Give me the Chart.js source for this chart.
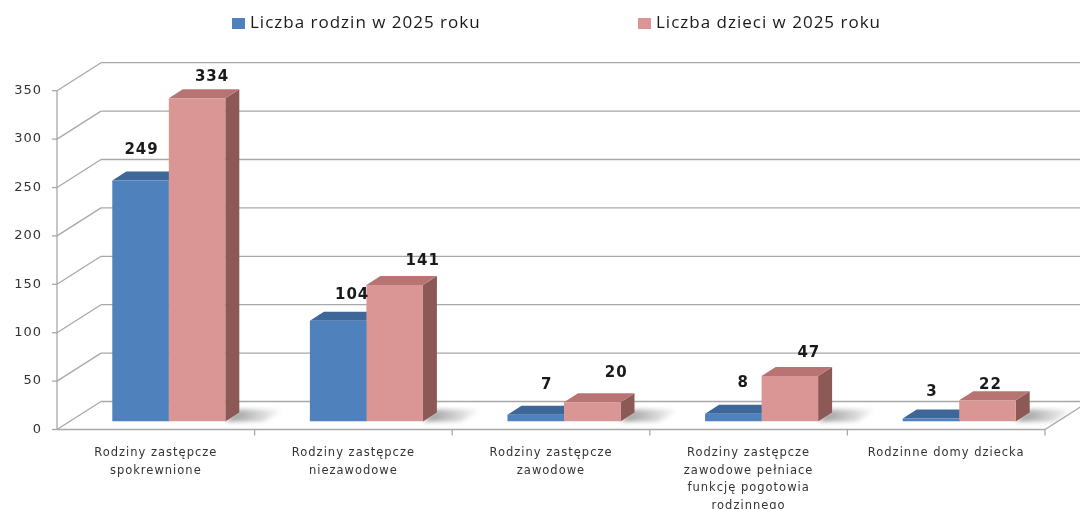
<!DOCTYPE html>
<html lang="pl">
<head>
<meta charset="utf-8">
<title>Rodziny zastępcze 2025</title>
<script src="https://cdn.jsdelivr.net/npm/chart.js@4.4.1/dist/chart.umd.min.js"></script>
<style>
  html, body { margin: 0; padding: 0; background: #fff; }
  #wrap { width: 1080px; height: 509px; }
</style>
</head>
<body>
<div id="wrap"><canvas id="chart" width="1080" height="509"></canvas></div>
<script>
// ─── data ──────────────────────────────────────────────────────────────
const categories = [
  ['Rodziny zastępcze', 'spokrewnione'],
  ['Rodziny zastępcze', 'niezawodowe'],
  ['Rodziny zastępcze', 'zawodowe'],
  ['Rodziny zastępcze', 'zawodowe pełniace', 'funkcję pogotowia', 'rodzinnego'],
  'Rodzinne domy dziecka',
];
const seriesNames = ['Liczba rodzin w 2025 roku', 'Liczba dzieci w 2025 roku'];
const families = [249, 104, 7, 8, 3];
const children = [334, 141, 20, 47, 22];
const yMin = 0, yMax = 350, yStep = 50;

// ─── look ──────────────────────────────────────────────────────────────
const CC = {
  text:     '#1a1a1a',
  axis:     '#333333',
  grid:     '#a8a8a8',
  blue:     '#4f81bd', blueTop: '#3d6798', blueSide: '#33557f',
  pink:     '#d99694', pinkTop: '#b87472', pinkSide: '#8c5957',
};
const FACES = [
  { top: CC.blueTop, side: CC.blueSide },
  { top: CC.pinkTop, side: CC.pinkSide },
];
const DEPTH = { dx: 14, dy: -9 };    // depth of one bar
const FRONT = { dx: -13, dy: 8 };    // axis plane, relative to bar plane
const BACK  = { dx: 31, dy: -20 };   // back wall, relative to bar plane

// value label nudges (relative to centre / top of the bar's front face)
const labelNudge = [
  [[1, -30], [14, -26], [11, -30], [10, -31], [1, -26]],
  [[15, -21], [28, -24], [24, -29], [19, -23], [3, -15]],
];

function line(ctx, x1, y1, x2, y2) {
  ctx.beginPath(); ctx.moveTo(x1, y1); ctx.lineTo(x2, y2); ctx.stroke();
}
function poly(ctx, pts, fill) {
  ctx.beginPath();
  pts.forEach(([px, py], i) => i ? ctx.lineTo(px, py) : ctx.moveTo(px, py));
  ctx.closePath();
  ctx.fillStyle = fill;
  ctx.fill();
}

// ── 3D box: walls, floor, bar tops/sides, shadows ─────────────────────
const box3d = {
  id: 'box3d',
  beforeDraw(chart) {
    // the source text is set wide; track every label a little
    chart.ctx.letterSpacing = '1px';
  },

  beforeDatasetsDraw(chart) {
    const { ctx, chartArea: ca, scales: { x, y } } = chart;
    ctx.save();
    ctx.strokeStyle = CC.grid;
    ctx.lineWidth = 1.3;

    // back wall grid + side wall diagonals + axis ticks
    y.ticks.forEach(t => {
      const py = y.getPixelForValue(t.value);
      line(ctx, ca.left + BACK.dx, py + BACK.dy, ca.right + BACK.dx, py + BACK.dy);
      line(ctx, ca.left + FRONT.dx, py + FRONT.dy, ca.left + BACK.dx, py + BACK.dy);
      line(ctx, ca.left + FRONT.dx - 5, py + FRONT.dy, ca.left + FRONT.dx, py + FRONT.dy);
    });
    // front vertical axis
    line(ctx, ca.left + FRONT.dx, y.getPixelForValue(yMax) + FRONT.dy,
              ca.left + FRONT.dx, y.getPixelForValue(yMin) + FRONT.dy);
    // floor front edge and right edge
    const fy = y.getPixelForValue(yMin);
    line(ctx, ca.left + FRONT.dx, fy + FRONT.dy, ca.right + FRONT.dx, fy + FRONT.dy);
    line(ctx, ca.right + FRONT.dx, fy + FRONT.dy, ca.right + BACK.dx, fy + BACK.dy);
    // category separators
    const n = categories.length;
    for (let i = 0; i < n; i++) {
      const bx = i < n - 1 ? (x.getPixelForValue(i) + x.getPixelForValue(i + 1)) / 2 : ca.right;
      line(ctx, bx + FRONT.dx, fy + FRONT.dy, bx + FRONT.dx, fy + FRONT.dy + 6);
    }

    // floor shadows to the right of each pair
    const last = chart.getDatasetMeta(chart.data.datasets.length - 1);
    last.data.forEach(el => {
      const r = el.x + el.width / 2, b = el.base;
      const g = ctx.createLinearGradient(r, 0, r + 58, 0);
      g.addColorStop(0, 'rgba(0,0,0,0.42)');
      g.addColorStop(1, 'rgba(0,0,0,0)');
      ctx.save();
      ctx.filter = 'blur(2px)';
      poly(ctx, [[r, b], [r + DEPTH.dx, b + DEPTH.dy - 3], [r + 60, b + DEPTH.dy - 3], [r + 38, b]], g);
      ctx.restore();
    });

    // tops and sides of the bars
    chart.data.datasets.forEach((ds, di) => {
      chart.getDatasetMeta(di).data.forEach(el => {
        const l = el.x - el.width / 2, r = el.x + el.width / 2, t = el.y, b = el.base;
        poly(ctx, [[r, t], [r + DEPTH.dx, t + DEPTH.dy], [r + DEPTH.dx, b + DEPTH.dy], [r, b]], FACES[di].side);
        poly(ctx, [[l, t], [l + DEPTH.dx, t + DEPTH.dy], [r + DEPTH.dx, t + DEPTH.dy], [r, t]], FACES[di].top);
      });
    });
    ctx.restore();
  },

  afterDatasetsDraw(chart) {
    const { ctx } = chart;
    ctx.save();
    ctx.font = 'bold 15px "DejaVu Sans"';
    ctx.fillStyle = CC.text;
    ctx.textAlign = 'center';
    ctx.textBaseline = 'middle';
    chart.data.datasets.forEach((ds, di) => {
      chart.getDatasetMeta(di).data.forEach((el, i) => {
        const [nx, ny] = labelNudge[di][i];
        ctx.fillText(String(ds.data[i]), el.x + nx, el.y + ny);
      });
    });
    ctx.restore();
  },

  afterDraw(chart) {
    const { ctx } = chart;
    const items = [{ x: 232 }, { x: 638 }];
    ctx.save();
    ctx.font = '17px "Open Sans"';
    ctx.textBaseline = 'middle';
    ctx.textAlign = 'left';
    chart.data.datasets.forEach((ds, di) => {
      const it = items[di];
      ctx.fillStyle = ds.backgroundColor;
      ctx.fillRect(it.x, 18, 13, 11);
      ctx.fillStyle = CC.text;
      ctx.fillText(ds.label, it.x + 18, 23);
    });
    ctx.restore();
    ctx.letterSpacing = '0px';
  },
};

new Chart(document.getElementById('chart').getContext('2d'), {
  type: 'bar',
  data: {
    labels: categories,
    datasets: [
      { label: seriesNames[0], data: families, backgroundColor: CC.blue },
      { label: seriesNames[1], data: children, backgroundColor: CC.pink },
    ],
  },
  options: {
    responsive: false,
    animation: false,
    events: [],
    layout: { padding: { top: 82.7, right: 22, left: 0, bottom: 0 } },
    datasets: { bar: { barPercentage: 1, categoryPercentage: 0.572, borderWidth: 0 } },
    plugins: { legend: { display: false }, tooltip: { enabled: false } },
    scales: {
      x: {
        grid: { display: false, drawTicks: false },
        border: { display: false },
        ticks: {
          color: CC.axis, autoSkip: false, maxRotation: 0, minRotation: 0,
          labelOffset: FRONT.dx, padding: 23,
          font: { family: 'DejaVu Sans', size: 11.5, lineHeight: 1.52 },
        },
        afterFit: s => { s.height = 87.5; },
      },
      y: {
        min: yMin, max: yMax,
        grid: { display: false, drawTicks: false },
        border: { display: false },
        ticks: {
          stepSize: yStep, color: CC.axis,
          labelOffset: FRONT.dy, padding: 28,
          font: { family: 'DejaVu Sans', size: 13 },
        },
        afterFit: s => { s.width = 70; },
      },
    },
  },
  plugins: [box3d],
});
</script>
</body>
</html>
